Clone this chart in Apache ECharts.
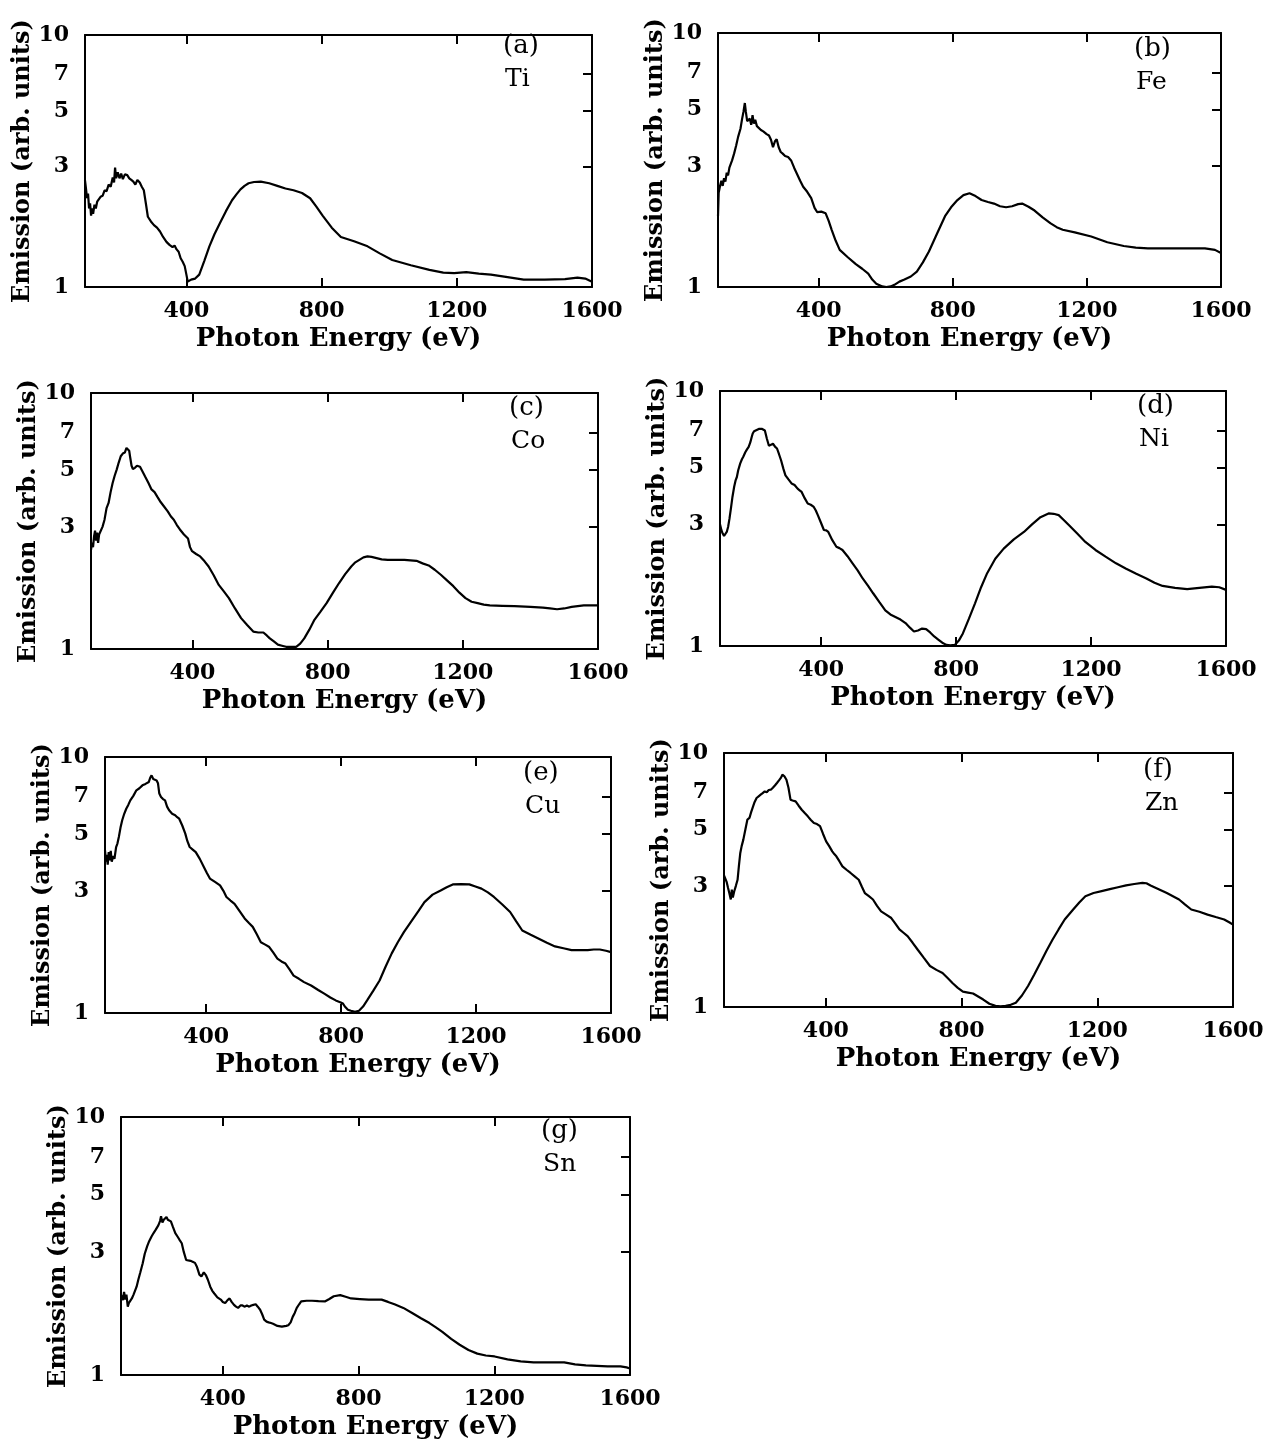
<!DOCTYPE html>
<html>
<head>
<meta charset="utf-8">
<script src="https://cdn.jsdelivr.net/npm/echarts@6/dist/echarts.min.js"></script>
<style>
  html, body { margin: 0; padding: 0; background: #fff; }
  #chart { width: 1275px; height: 1446px; }
</style>
</head>
<body>
<div id="chart"></div>
<script>
// Emission spectra vs photon energy, one panel per metal (log emission axis).

const xTickValues = [400, 800, 1200];
const xLabelValues = [400, 800, 1200, 1600];
const yLabelValues = [1, 3, 5, 7, 10];
const yTickValues = [3, 5, 7];

const tiEnergy = [100,103,106,109,112,115,118,121,124,128,132,136,140,146,152,158,164,170,176,182,186,189,192,197,202,207,212,218,225,231,237,243,249,255,262,268,274,280,286,295,304,313,322,331,341,350,359,365,371,377,383,389,395,400,404,409,414,426,438,453,468,483,499,517,535,548,560,572,584,600,620,645,669,693,717,742,766,785,803,830,857,896,936,972,1009,1064,1119,1160,1192,1228,1265,1301,1350,1398,1460,1520,1557,1580,1600];
const tiEmission = [2.65,2.45,2.25,2.35,2.05,2.15,1.92,2.05,1.95,2.12,2.05,2.18,2.15,2.28,2.3,2.42,2.4,2.55,2.5,2.72,2.6,2.98,2.7,2.85,2.7,2.82,2.68,2.8,2.78,2.7,2.66,2.62,2.55,2.66,2.6,2.5,2.42,2.15,1.9,1.82,1.76,1.72,1.66,1.58,1.51,1.47,1.44,1.46,1.41,1.38,1.3,1.26,1.21,1.12,1.05,1.06,1.07,1.08,1.12,1.27,1.45,1.62,1.79,2.0,2.21,2.33,2.44,2.52,2.58,2.61,2.62,2.58,2.52,2.46,2.42,2.36,2.25,2.08,1.92,1.72,1.58,1.52,1.45,1.36,1.28,1.22,1.17,1.14,1.135,1.145,1.13,1.12,1.095,1.07,1.07,1.075,1.09,1.08,1.05];

const feEnergy = [100,102,106,110,114,118,122,126,130,134,138,142,148,154,160,167,172,176,180,183,187,191,195,199,203,207,211,216,221,228,235,245,252,258,264,270,275,281,287,293,300,309,318,327,336,345,354,366,378,388,396,408,421,430,439,451,463,487,511,530,548,560,572,590,602,615,626,641,656,675,693,711,729,753,777,795,814,832,850,868,886,905,923,941,959,977,995,1007,1026,1044,1068,1092,1110,1128,1164,1213,1261,1310,1346,1382,1455,1520,1552,1582,1600];
const feEmission = [1.9,2.35,2.5,2.62,2.5,2.68,2.6,2.82,2.75,2.95,2.9,3.15,3.35,3.6,3.9,4.2,4.6,4.9,5.3,4.9,4.5,4.45,4.6,4.35,4.75,4.4,4.55,4.3,4.28,4.15,4.1,4.0,3.95,3.8,3.55,3.75,3.82,3.55,3.4,3.35,3.28,3.25,3.15,2.95,2.78,2.62,2.48,2.37,2.24,2.05,1.97,1.98,1.95,1.82,1.68,1.52,1.4,1.31,1.23,1.18,1.13,1.07,1.03,1.005,1.0,1.005,1.02,1.05,1.07,1.1,1.15,1.25,1.38,1.62,1.9,2.06,2.2,2.3,2.34,2.28,2.2,2.16,2.13,2.08,2.06,2.08,2.12,2.13,2.07,2.0,1.88,1.78,1.72,1.68,1.64,1.58,1.5,1.45,1.43,1.42,1.42,1.42,1.42,1.4,1.36];

const coEnergy = [100,103,106,109,112,115,118,121,124,128,134,140,146,152,158,164,170,176,182,188,194,200,205,209,213,216,220,224,230,236,240,245,252,260,270,279,288,297,306,315,327,336,345,354,363,375,387,393,399,411,423,436,448,463,478,493,508,526,544,562,580,595,610,620,629,641,653,665,677,692,707,719,731,746,761,779,797,816,834,852,870,882,894,906,918,930,942,960,978,1003,1027,1045,1063,1081,1099,1117,1135,1154,1172,1190,1208,1226,1244,1262,1280,1317,1353,1400,1437,1458,1479,1500,1522,1540,1558,1580,1600];
const coEmission = [2.44,2.6,2.5,2.75,2.9,2.65,2.85,2.6,2.8,2.84,3.0,3.2,3.55,3.72,4.1,4.45,4.75,5.02,5.35,5.66,5.8,5.85,6.1,6.2,5.95,5.6,5.2,5.05,5.1,5.2,5.28,5.15,4.95,4.72,4.45,4.2,4.1,3.92,3.75,3.62,3.45,3.3,3.2,3.05,2.93,2.8,2.7,2.5,2.41,2.35,2.3,2.2,2.1,1.94,1.78,1.68,1.58,1.44,1.32,1.24,1.17,1.16,1.16,1.13,1.1,1.07,1.04,1.03,1.02,1.02,1.02,1.05,1.1,1.19,1.3,1.4,1.51,1.66,1.81,1.96,2.1,2.18,2.23,2.28,2.3,2.29,2.27,2.24,2.23,2.23,2.23,2.22,2.21,2.16,2.12,2.04,1.95,1.85,1.76,1.66,1.58,1.53,1.51,1.49,1.48,1.475,1.47,1.46,1.45,1.44,1.43,1.44,1.46,1.47,1.48,1.48,1.48];

const niEnergy = [100,104,108,112,116,120,124,128,133,137,142,146,150,154,160,165,169,175,180,185,190,194,197,201,205,215,225,233,239,245,251,257,263,269,275,281,288,294,303,312,321,330,336,342,351,360,369,378,384,390,399,408,415,421,433,445,454,463,478,493,508,523,539,554,572,590,605,620,635,650,663,675,687,699,711,723,735,747,759,771,783,796,808,820,838,856,874,892,916,941,971,1001,1025,1050,1074,1089,1104,1119,1134,1159,1183,1213,1243,1274,1304,1334,1364,1388,1412,1449,1485,1521,1558,1580,1600];
const niEmission = [3.0,2.85,2.76,2.7,2.72,2.8,2.93,3.15,3.51,3.85,4.21,4.45,4.6,4.89,5.2,5.4,5.52,5.75,5.9,6.04,6.3,6.6,6.81,6.95,7.0,7.1,7.1,7.0,6.5,6.1,6.15,6.22,6.05,5.95,5.65,5.35,4.95,4.67,4.5,4.34,4.28,4.14,4.08,4.02,3.8,3.62,3.58,3.51,3.4,3.26,3.05,2.85,2.84,2.8,2.6,2.45,2.42,2.38,2.25,2.11,1.98,1.84,1.72,1.61,1.49,1.38,1.33,1.3,1.27,1.23,1.18,1.14,1.15,1.17,1.165,1.13,1.09,1.06,1.03,1.01,1.005,1.01,1.05,1.12,1.28,1.47,1.7,1.93,2.2,2.41,2.62,2.8,3.0,3.2,3.31,3.3,3.26,3.12,2.98,2.76,2.56,2.38,2.24,2.11,2.01,1.92,1.84,1.77,1.72,1.69,1.67,1.69,1.71,1.7,1.66];

const cuEnergy = [100,103,105,108,111,114,117,120,124,128,133,137,141,146,151,157,163,169,175,184,193,202,211,220,230,234,238,243,248,253,257,261,266,272,278,284,290,299,308,314,320,329,338,344,351,360,369,381,393,402,411,426,441,451,460,472,484,499,514,526,538,550,562,575,587,599,611,623,635,647,659,675,690,711,732,750,768,784,799,805,811,820,829,841,853,865,877,895,914,932,950,968,986,1010,1029,1047,1071,1095,1113,1131,1156,1180,1198,1216,1235,1253,1277,1301,1319,1337,1362,1386,1410,1434,1459,1483,1507,1531,1549,1567,1585,1600];
const cuEmission = [4.32,3.9,4.15,3.8,4.25,3.95,4.3,3.9,4.1,4.0,4.45,4.6,4.87,5.3,5.66,6.0,6.28,6.5,6.77,7.05,7.41,7.55,7.75,7.85,7.99,8.3,8.48,8.2,8.3,8.1,7.9,7.2,6.98,6.85,6.77,6.4,6.19,6.0,5.92,5.82,5.74,5.4,5.02,4.7,4.45,4.35,4.25,4.0,3.72,3.52,3.35,3.25,3.15,3.0,2.84,2.75,2.67,2.5,2.34,2.25,2.17,2.03,1.89,1.85,1.81,1.72,1.63,1.59,1.56,1.48,1.4,1.36,1.32,1.28,1.23,1.19,1.15,1.12,1.1,1.09,1.06,1.03,1.02,1.01,1.02,1.06,1.12,1.22,1.34,1.52,1.71,1.89,2.07,2.3,2.5,2.71,2.9,3.01,3.1,3.18,3.19,3.18,3.12,3.06,2.96,2.84,2.66,2.48,2.28,2.1,2.02,1.95,1.88,1.82,1.79,1.76,1.76,1.76,1.77,1.77,1.75,1.73];

const znEnergy = [100,104,108,112,116,120,123,126,130,135,140,144,148,152,157,163,169,175,180,184,190,196,202,208,214,220,226,232,238,244,250,256,262,268,272,278,284,290,296,302,311,320,329,338,347,356,365,374,383,392,401,410,419,425,431,440,449,461,473,485,497,506,515,527,539,551,563,578,593,605,617,629,641,656,671,689,707,726,744,759,774,789,804,819,834,849,864,882,900,915,930,945,960,978,996,1014,1032,1050,1068,1086,1104,1129,1147,1165,1189,1213,1237,1261,1285,1309,1333,1345,1357,1381,1405,1423,1441,1459,1477,1501,1525,1549,1574,1590,1600];
const znEmission = [3.3,3.27,3.1,2.94,2.8,2.65,2.9,2.7,2.85,3.0,3.17,3.6,4.04,4.3,4.56,5.0,5.47,5.55,5.85,6.07,6.4,6.65,6.75,6.85,6.95,7.06,7.0,7.15,7.17,7.3,7.45,7.62,7.8,8.0,8.22,8.1,7.85,7.3,6.55,6.5,6.45,6.2,5.98,5.8,5.63,5.45,5.3,5.25,5.15,4.8,4.49,4.3,4.1,4.0,3.92,3.75,3.58,3.47,3.37,3.27,3.17,2.98,2.81,2.73,2.65,2.5,2.38,2.31,2.24,2.13,2.02,1.96,1.9,1.79,1.68,1.56,1.45,1.4,1.36,1.3,1.24,1.19,1.15,1.14,1.13,1.1,1.07,1.03,1.01,1.005,1.01,1.02,1.04,1.11,1.21,1.34,1.49,1.66,1.84,2.02,2.21,2.42,2.58,2.73,2.81,2.86,2.91,2.96,3.01,3.05,3.08,3.07,3.01,2.91,2.81,2.73,2.65,2.53,2.42,2.37,2.31,2.26,2.21,2.15,2.11];

const snEnergy = [100,103,106,109,113,116,120,123,127,132,137,141,146,151,157,164,170,177,183,190,196,202,210,215,218,222,226,230,234,238,242,247,253,260,266,272,279,285,292,298,305,311,318,324,331,337,344,350,356,363,369,375,384,394,400,407,414,420,426,433,439,445,452,458,465,471,478,484,490,497,503,510,516,522,529,535,542,548,561,574,587,593,600,606,612,618,625,631,647,663,682,702,714,727,746,762,778,804,830,849,868,887,906,932,958,984,1009,1028,1047,1073,1098,1124,1150,1175,1201,1239,1278,1316,1354,1406,1438,1470,1502,1534,1553,1572,1590,1600];
const snEmission = [2.05,2.07,1.95,2.1,1.96,2.05,1.84,1.9,1.93,1.98,2.05,2.07,2.2,2.34,2.5,2.71,2.95,3.15,3.3,3.44,3.55,3.65,3.8,3.95,4.12,3.9,4.0,3.95,4.1,4.0,3.98,3.94,3.75,3.55,3.45,3.35,3.24,3.0,2.79,2.78,2.77,2.75,2.72,2.62,2.45,2.41,2.5,2.44,2.34,2.2,2.12,2.07,2.0,1.96,1.92,1.9,1.95,1.98,1.92,1.87,1.84,1.82,1.86,1.86,1.84,1.86,1.84,1.86,1.87,1.88,1.84,1.79,1.72,1.64,1.61,1.6,1.59,1.58,1.55,1.54,1.55,1.56,1.6,1.68,1.74,1.82,1.88,1.93,1.94,1.94,1.935,1.93,1.97,2.02,2.04,2.01,1.98,1.97,1.96,1.96,1.96,1.92,1.88,1.82,1.74,1.66,1.59,1.53,1.47,1.38,1.31,1.25,1.21,1.19,1.18,1.15,1.13,1.12,1.12,1.12,1.1,1.09,1.085,1.08,1.08,1.08,1.07,1.06];

const panels = [
  { tag: '(a)', element: 'Ti', energy: tiEnergy, emission: tiEmission },
  { tag: '(b)', element: 'Fe', energy: feEnergy, emission: feEmission },
  { tag: '(c)', element: 'Co', energy: coEnergy, emission: coEmission },
  { tag: '(d)', element: 'Ni', energy: niEnergy, emission: niEmission },
  { tag: '(e)', element: 'Cu', energy: cuEnergy, emission: cuEmission },
  { tag: '(f)', element: 'Zn', energy: znEnergy, emission: znEmission },
  { tag: '(g)', element: 'Sn', energy: snEnergy, emission: snEmission }
];

// Plot boxes (px) and the spot where each panel's tag text goes.
const layouts = [
  { left: 85,  top: 35,   width: 507, height: 252, tagX: 503,  tagY: 33 },
  { left: 718, top: 33,   width: 503, height: 254, tagX: 1134, tagY: 36 },
  { left: 91,  top: 393,  width: 507, height: 256, tagX: 509,  tagY: 395 },
  { left: 720, top: 391,  width: 506, height: 255, tagX: 1137, tagY: 393 },
  { left: 105, top: 757,  width: 506, height: 256, tagX: 523,  tagY: 760 },
  { left: 724, top: 753,  width: 509, height: 254, tagX: 1143, tagY: 757 },
  { left: 121, top: 1117, width: 509, height: 258, tagX: 541,  tagY: 1118 }
];

const INK = '#000';
const SERIF = 'DejaVu Serif';
const plain = (v) => String(v);
const frameLine = { show: true, onZero: false, lineStyle: { color: INK, width: 2 } };
const innerTick = (values) => ({ show: true, inside: true, length: 9, customValues: values, lineStyle: { color: INK, width: 2 } });
const tickFont = { color: INK, fontFamily: SERIF, fontWeight: 'bold', fontSize: 22 };
const xNameFont = { color: INK, fontFamily: SERIF, fontWeight: 'bold', fontSize: 26 };
const yNameFont = { color: INK, fontFamily: SERIF, fontWeight: 'bold', fontSize: 24 };

const grid = [], xAxis = [], yAxis = [], series = [], graphic = [];

panels.forEach((p, i) => {
  const L = layouts[i];
  grid.push({ left: L.left, top: L.top, width: L.width, height: L.height, containLabel: false });

  // bottom energy axis with labels
  xAxis.push({
    type: 'value', gridIndex: i, position: 'bottom', min: 100, max: 1600,
    axisLine: frameLine, axisTick: innerTick(xTickValues),
    axisLabel: Object.assign({ customValues: xLabelValues, margin: 13, formatter: plain }, tickFont),
    splitLine: { show: false },
    name: 'Photon Energy (eV)', nameLocation: 'middle', nameGap: 39, nameTextStyle: xNameFont
  });
  // top frame edge with ticks
  xAxis.push({
    type: 'value', gridIndex: i, position: 'top', min: 100, max: 1600,
    axisLine: frameLine, axisTick: innerTick(xTickValues),
    axisLabel: { show: false }, splitLine: { show: false }
  });
  // left log emission axis with labels
  yAxis.push({
    type: 'log', logBase: 10, gridIndex: i, position: 'left', min: 1, max: 10,
    axisLine: frameLine, axisTick: { show: false },
    axisLabel: Object.assign({ customValues: yLabelValues, margin: 16, formatter: plain }, tickFont),
    splitLine: { show: false }, minorTick: { show: false },
    name: 'Emission (arb. units)', nameLocation: 'middle', nameGap: 50, nameTextStyle: yNameFont
  });
  // right frame edge with ticks
  yAxis.push({
    type: 'log', logBase: 10, gridIndex: i, position: 'right', min: 1, max: 10,
    axisLine: frameLine, axisTick: innerTick(yTickValues),
    axisLabel: { show: false }, splitLine: { show: false }
  });

  series.push({
    type: 'line', name: p.element,
    xAxisIndex: 2 * i, yAxisIndex: 2 * i,
    data: p.energy.map((e, k) => [e, p.emission[k]]),
    showSymbol: false, smooth: false, clip: true,
    lineStyle: { color: INK, width: 2.2 }
  });

  graphic.push({
    type: 'text', left: L.tagX, top: L.tagY,
    style: { text: p.tag, fill: INK, font: '26px "DejaVu Serif"' }
  });
  graphic.push({
    type: 'text', left: L.tagX + 2, top: L.tagY + 34,
    style: { text: p.element, fill: INK, font: '25px "DejaVu Serif"' }
  });
});

const chart = echarts.init(document.getElementById('chart'), null, { renderer: 'canvas' });
chart.setOption({
  animation: false,
  backgroundColor: '#fff',
  textStyle: { fontFamily: SERIF },
  grid, xAxis, yAxis, series, graphic
});
</script>
</body>
</html>
